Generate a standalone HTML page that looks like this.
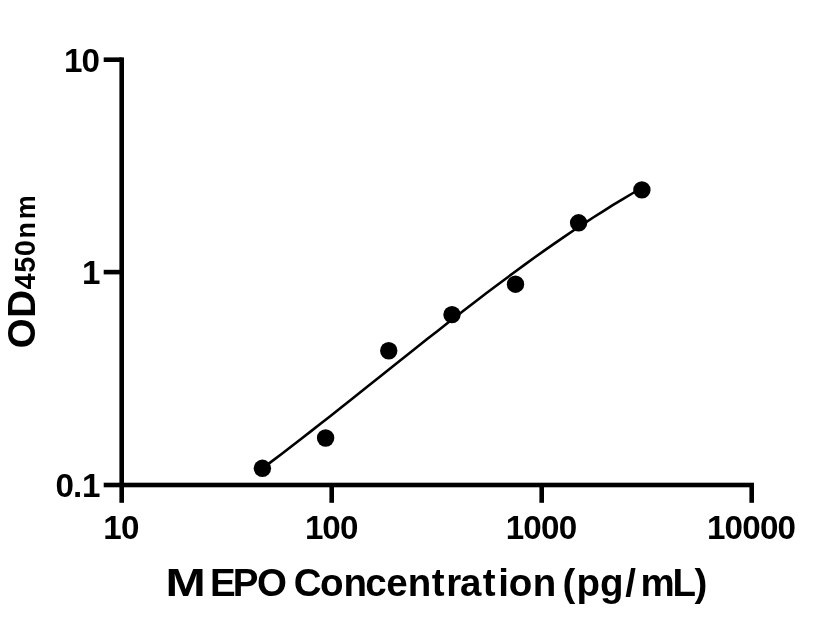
<!DOCTYPE html>
<html><head><meta charset="utf-8"><title>M EPO Concentration</title>
<style>
html,body{margin:0;padding:0;background:#fff;}
svg{display:block;}
text{font-family:"Liberation Sans",sans-serif;font-weight:bold;fill:#000;}
</style></head>
<body>
<svg width="816" height="640" viewBox="0 0 816 640">
<rect width="816" height="640" fill="#fff"/>
<g fill="#000">
<!-- axes -->
<rect x="119.4" y="57.4" width="4.6" height="445.4"/>
<rect x="103.7" y="482.7" width="650.3" height="4.6"/>
<!-- y ticks -->
<rect x="103.7" y="57.4" width="18" height="4.6"/>
<rect x="103.7" y="269.8" width="18" height="4.6"/>
<!-- x ticks -->
<rect x="329.4" y="485" width="4.6" height="17.8"/>
<rect x="539.4" y="485" width="4.6" height="17.8"/>
<rect x="749.4" y="485" width="4.6" height="17.8"/>
<circle cx="262.4" cy="468.3" r="8.7"/>
<circle cx="325.6" cy="438.0" r="8.7"/>
<circle cx="388.75" cy="350.75" r="8.7"/>
<circle cx="452.0" cy="314.6" r="8.7"/>
<circle cx="515.5" cy="284.2" r="8.7"/>
<circle cx="578.6" cy="222.8" r="8.7"/>
<circle cx="641.9" cy="189.9" r="8.7"/>
</g>
<path d="M262.4,468.4 L272.1,461.1 L281.9,453.7 L291.6,446.2 L301.3,438.7 L311.1,431.1 L320.8,423.5 L330.5,415.9 L340.2,408.2 L350.0,400.5 L359.7,392.7 L369.4,385.0 L379.2,377.2 L388.9,369.5 L398.6,361.7 L408.4,354.0 L418.1,346.3 L427.8,338.6 L437.6,330.9 L447.3,323.3 L457.0,315.7 L466.7,308.2 L476.5,300.7 L486.2,293.3 L495.9,286.0 L505.7,278.7 L515.4,271.5 L525.1,264.4 L534.9,257.3 L544.6,250.4 L554.3,243.6 L564.1,236.9 L573.8,230.3 L583.5,223.8 L593.2,217.5 L603.0,211.3 L612.7,205.2 L622.4,199.3 L632.2,193.5 L641.9,187.9" fill="none" stroke="#000" stroke-width="2.6" stroke-linecap="round" stroke-linejoin="round"/>
<g font-size="33.2">
<text x="63.89 81.42" y="71.6">10</text>
<text x="81.99" y="283.9">1</text>
<text x="55.49 72.90 81.99" y="496.9">0.1</text>
<text x="103.24 120.99" y="538.8">10</text>
<text x="304.99 322.29 340.04" y="538.8">100</text>
<text x="505.69 523.29 541.04 558.77" y="538.8">1000</text>
<text x="706.99 724.59 742.29 760.04 777.54" y="538.8">10000</text>
</g>
<text font-size="38.5" x="165.52" y="595.7" textLength="40.21" lengthAdjust="spacingAndGlyphs">M</text>
<text font-size="38.5" x="210.00 232.78 256.92 286.87 293.71 320.12 343.54 365.36 386.20 407.79 431.71 446.16 459.98 482.84 498.17 508.87 532.79 556.31 562.40 576.51 599.99 625.28 640.56 672.55 694.53" y="595.7">EPO Concentration (pg/mL)</text>
<g transform="translate(34.6,346.5) rotate(-90)">
<text font-size="38.5" x="-1.70 28.87" y="0">OD</text>
<text font-size="29.0" x="56.94 73.84 90.16 108.00 127.19" y="0">450<tspan font-size="27.0">nm</tspan></text>
</g>
</svg>
</body></html>
